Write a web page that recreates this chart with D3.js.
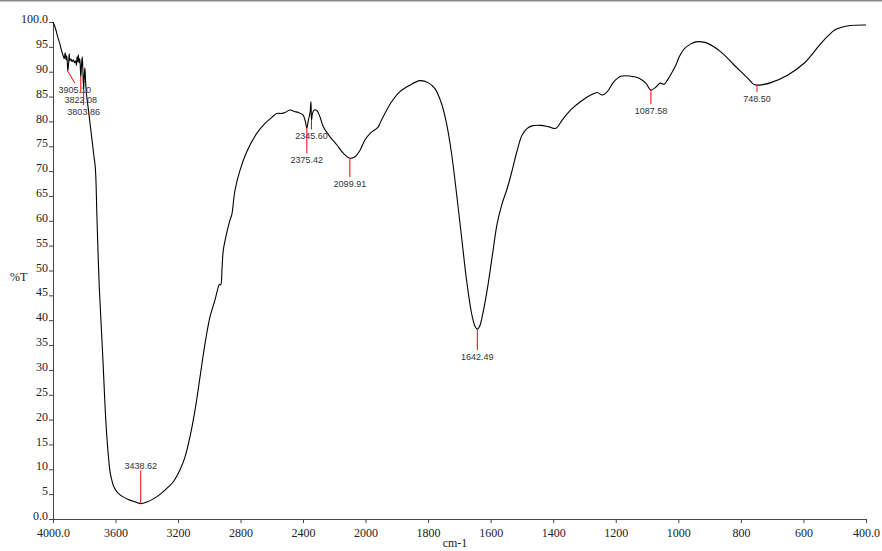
<!DOCTYPE html>
<html><head><meta charset="utf-8">
<script src="https://cdn.jsdelivr.net/npm/d3@7"></script>
<style>
html,body{margin:0;padding:0;background:#fff;}
svg{display:block;}
</style></head>
<body>
<script>
// ---- data ----
const wavenumbers = [4000,3985,3970,3955,3945,3935,3928,3922,3916,3912,3908,3905.1,3900,3896,3892,3886,3878,3870,3862,3856,3850,3846,3842,3838,3833,3829,3826,3822.08,3818,3813,3809,3803.86,3800,3796,3792,3786,3780,3770,3760,3750,3740,3730,3725,3719,3704,3682,3661,3645,3632,3606,3573,3518,3470,3438.62,3400,3366,3330,3294,3260,3230,3187,3155,3123,3091,3059,3027,2995,2963,2942,2935,2927,2918,2910,2884,2867,2856,2835,2803,2760,2696,2643,2600,2568,2540,2515,2483,2455,2430,2400,2385,2375.42,2366,2360,2354,2349,2345.6,2340,2329,2312,2291,2270,2227,2184,2142,2099.91,2067,2035,2003,1985,1964,1959,1954,1938,1916,1890,1858,1826,1800,1778,1757,1741,1725,1709,1693,1677,1661,1650,1642.49,1635,1627,1611,1595,1579,1563,1547,1531,1515,1499,1483,1467,1440,1413,1392,1371,1344,1312,1280,1259,1243,1227,1206,1184,1152,1125,1104,1087.58,1072,1058,1045,1035,1019,1008,997,981,960,944,925,906,864,821,778,760,748.5,730,704,651,598,544,520,500,480,450,400];
const transmittance = [100,98.8,97,95.5,94.2,93.2,92.6,93.8,92.4,93.2,91.6,90.1,91.8,93.6,92.2,92.6,92.0,92.4,91.8,92.2,91.3,93.0,92.0,93.4,91.8,92.6,91.5,88.9,91.0,93.0,90.5,86.5,89.0,90.8,88.5,85.5,84,81.5,78.8,76.2,73.5,71,68,61,46.8,33,19.3,12.5,9,6.2,4.9,3.9,3.4,3.1,3.4,3.9,4.6,5.5,6.5,7.5,9.9,12.5,16.6,21.9,28.6,35.3,40.7,44.1,46.7,47.2,47.1,50.5,54.1,58.1,60.2,61.2,66.2,70.2,73.9,77.6,79.6,80.8,81.6,81.6,81.8,82.3,82.0,81.8,81.3,80.0,78.6,80.2,81.0,82.0,84.0,80.2,81.5,82.3,82.2,80.9,78.9,76.9,75.3,73.6,72.6,72.9,74.2,76.3,77.6,78.6,78.9,79.6,81.6,84,86,87.3,88.2,87.8,86.6,83.6,79.6,73.6,65.5,56.8,48.1,41.4,38.8,38.2,38.8,40.7,46.1,52.8,59.5,63.5,66.5,70.2,74.2,77.3,78.6,79.1,79.2,78.9,78.6,80.3,82.3,84,85.3,85.8,85.3,86,88,89.1,89.1,88.7,87.7,86.3,86.9,87.7,87.5,88.3,90,91.3,93,94.6,95.6,96,96,95.7,94,91.3,88.7,87.5,87.3,87.4,87.8,89.3,91.7,95.7,97.3,98.4,98.9,99.3,99.4];
const peakWavenumbers = [3905.10,3822.08,3803.86,3438.62,2375.42,2345.60,2099.91,1642.49,1087.58,748.50];
const peakLabels = ["3905.10","3822.08","3803.86","3438.62","2375.42","2345.60","2099.91","1642.49","1087.58","748.50"];
const xTickValues = [4000,3600,3200,2800,2400,2000,1800,1600,1400,1200,1000,800,600,400];
const xTickLabels = ["4000.0","3600","3200","2800","2400","2000","1800","1600","1400","1200","1000","800","600","400.0"];
const yTickValues = [0,5,10,15,20,25,30,35,40,45,50,55,60,65,70,75,80,85,90,95,100];
const yTickLabels = ["0.0","5","10","15","20","25","30","35","40","45","50","55","60","65","70","75","80","85","90","95","100.0"];

// ---- layout (marker styling, not data) ----
const markerLayout = [
  {len:12, endDx:7, labelDx:7},
  {len:16, endDx:0, labelDx:0},
  {len:16, endDx:0, labelDx:0},
  {len:-33, endDx:0, labelDx:0},
  {len:25, endDx:0, labelDx:0},
  {len:9, endDx:0, labelDx:0},
  {len:19, endDx:0, labelDx:0},
  {len:21, endDx:0, labelDx:0},
  {len:14, endDx:0, labelDx:0},
  {len:7, endDx:0, labelDx:0}
];

const W = 882, H = 551;
const svg = d3.select("body").append("svg").attr("width", W).attr("height", H);

const x = d3.scaleLinear().domain([4000, 2000, 400]).range([53, 365.5, 866]);
const y = d3.scaleLinear().domain([0, 100]).range([519, 22]);

// top gray rule
svg.append("line").attr("x1",0).attr("x2",W).attr("y1",0.75).attr("y2",0.75)
  .attr("stroke","#8a8a8a").attr("stroke-width",1.5);

const serif = "'Liberation Serif','Times New Roman',serif";
const sans = "'Liberation Sans',Arial,sans-serif";

// axes
const xAxis = d3.axisBottom(x).tickValues(xTickValues)
  .tickFormat((d,i)=>xTickLabels[i]).tickSizeInner(4).tickSizeOuter(0);
const gx = svg.append("g").attr("transform","translate(0,519)").call(xAxis);
gx.select(".domain").attr("stroke","#444");
gx.selectAll(".tick line").attr("stroke","#444");
gx.selectAll(".tick text").attr("font-family",serif).attr("font-size",12)
  .attr("fill","#222").attr("dy",null).attr("y",18);

const yAxis = d3.axisLeft(y).tickValues(yTickValues)
  .tickFormat((d,i)=>yTickLabels[i]).tickSizeInner(4).tickSizeOuter(0);
const gy = svg.append("g").attr("transform","translate(53,0)").call(yAxis);
gy.select(".domain").attr("stroke","#444");
gy.selectAll(".tick line").attr("stroke","#444");
gy.selectAll(".tick text").attr("font-family",serif).attr("font-size",12)
  .attr("fill","#222").attr("dy","0.05em").attr("x",-5);

svg.append("text").attr("x",455).attr("y",547).attr("text-anchor","middle")
  .attr("font-family",serif).attr("font-size",12).attr("fill","#222").text("cm-1");
svg.append("text").attr("x",10).attr("y",281)
  .attr("font-family",serif).attr("font-size",12).attr("fill","#222").text("%T");

// spectrum
const pts = wavenumbers.map((w,i)=>[w, transmittance[i]]);
const line = d3.line().x(d=>x(d[0])).y(d=>y(d[1])).curve(d3.curveCatmullRom.alpha(0.5));
svg.append("path").datum(pts).attr("d",line).attr("fill","none")
  .attr("stroke","#000").attr("stroke-width",1.1).attr("stroke-linejoin","round");

// peak markers
peakWavenumbers.forEach((w,i)=>{
  const idx = wavenumbers.indexOf(w);
  const v = transmittance[idx];
  const px = x(w), py = y(v);
  const L = markerLayout[i];
  const ey = py + L.len;
  svg.append("line").attr("x1",px).attr("y1",py).attr("x2",px+L.endDx).attr("y2",ey)
    .attr("stroke","#ff0000").attr("stroke-width",1);
  const ty = L.len >= 0 ? ey + 10 : ey - 2;
  svg.append("text").attr("x",px+L.labelDx).attr("y",ty).attr("text-anchor","middle")
    .attr("font-family",sans).attr("font-size",9).attr("fill","#333").text(peakLabels[i]);
});
</script>
</body></html>
